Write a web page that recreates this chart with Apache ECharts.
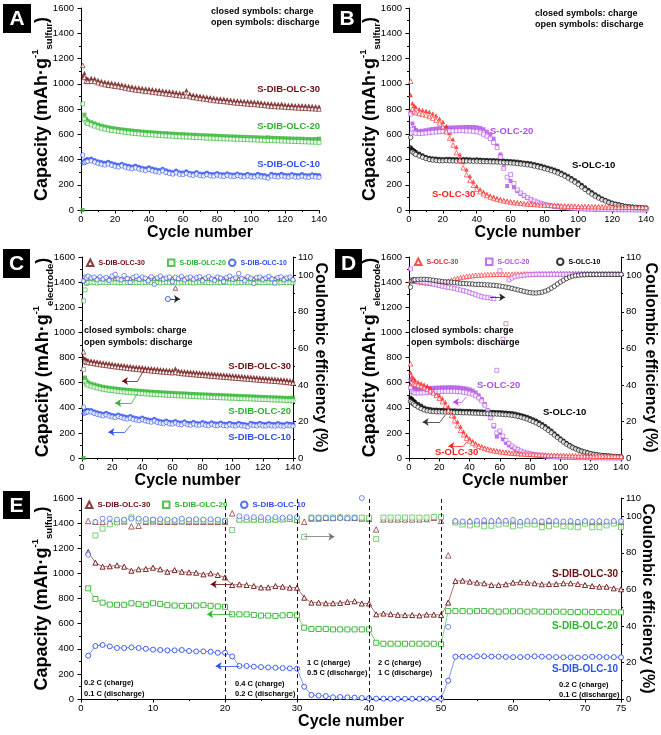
<!DOCTYPE html>
<html><head><meta charset="utf-8">
<script src="https://cdn.jsdelivr.net/npm/echarts@6/dist/echarts.min.js"></script>
<style>html,body{margin:0;padding:0;background:#fff}#c{width:661px;height:735px}</style>
</head><body><div id="c"></div>
<script>
// ---- cycle numbers (x values) ----
const CYC = [1,2,3,4]; for (let c = 6; c <= 140; c += 2) CYC.push(c);
const CYC_E = []; for (let c = 1; c <= 75; c++) CYC_E.push(c);

// ---- Panel A: capacity (mAh/g sulfur), S-DIB-OLC ----
const A30c = [1060,1085,1045,1040, 1045,1042,1030,1022,1015,1012,1008,1004,1000,995, 988,982,978,973,970,966,963,960,957,953, 950,946,942,940,936,932,929,926,948,920, 913,909,905,901,897,893,889,886,883,881, 878,874,870,868,866,864,862,860,857,855, 852,848,845,843,841,839,842,836,834,833, 830,829,830,827,825,824,822,820];
const A30d = [1145,1050,1020,1018, 1020,1018,1008,1000,993,988,985,980,977,972, 966,960,955,951,948,944,940,938,934,930, 927,923,920,917,913,910,906,903,905,898, 892,888,884,880,876,872,868,865,862,860, 857,853,850,847,845,843,840,838,836,834, 831,828,825,822,820,818,818,815,813,812, 810,808,807,806,804,803,801,800];
const A20c = [0,755,720,705, 695,686,676,668,661,655,650,646,642,638, 635,632,629,626,624,621,619,617,615,613, 611,609,608,606,604,603,601,600,599,597, 596,595,593,592,591,590,589,588,586,585, 584,583,582,581,580,579,578,577,576,575, 574,573,575,572,571,570,569,568,567,566, 565,565,564,563,562,561,562,565];
const A20d = [840,720,695,685, 675,665,656,648,641,635,630,626,622,618, 615,612,609,606,603,601,599,597,595,593, 591,589,587,586,584,582,581,579,578,577, 575,574,573,571,570,569,568,567,565,564, 563,562,561,560,559,558,557,556,555,554, 553,552,551,550,549,548,547,546,545,544, 543,542,541,540,539,538,537,536];
const A10c = [372,390,398,402, 405,395,385,378,372,380,370,362,356,365, 355,348,342,350,340,333,328,336,326,320, 315,325,312,305,300,310,298,296,305,294, 290,300,288,285,295,286,283,292,284,281, 290,282,280,288,280,277,286,278,276,285, 277,275,268,285,280,277,285,278,276,284, 277,275,283,276,274,282,277,275];
const A10d = [435,375,382,386, 390,380,370,363,357,365,355,347,341,350, 340,333,327,335,325,318,313,321,311,305, 300,310,297,290,285,295,283,281,290,279, 275,285,273,270,280,271,268,277,269,266, 275,267,265,273,265,262,271,263,261,270, 262,260,253,270,265,262,270,263,261,269, 262,260,268,261,259,267,262,260];

// ---- Panel B: capacity (mAh/g sulfur), S-OLC ----
const B30c = [910,845,828,815, 800,792,787,778,765,748,725,700,665,610, 560,500,440,380,320,270,225,190,165,145, 128,115,104,95,87,80,74,69,64,60, 57,54,51,49,47,45,43,42,40,39, 38,37,36,35,34,33,32,31,30,30, 29,28,28,27,27,26,26,25,25,24, 24,23,23,23,22,22,22,21];
const B30d = [1020,800,780,770, 765,760,752,740,728,712,690,660,620,570, 515,455,395,335,280,235,195,165,145,128, 114,103,94,86,79,73,68,63,59,56, 53,50,48,46,44,42,40,39,38,36, 35,34,33,32,31,31,30,29,28,28, 27,27,26,26,25,25,24,24,23,23, 23,22,22,22,21,21,21,20];
const B20c = [780,685,650,635, 625,628,632,638,642,645,648,650,652,653, 654,655,656,657,658,658,657,655,650,640, 620,600,565,510,440,340,190,230,180,150, 128,110,95,82,70,60,52,44,38,33, 28,24,21,18,15,13,11,9,8,7, 6,5,4,4,3,3,2,2,2,1, 1,1,1,0,0,0,0,0];
const B20d = [760,640,615,608, 605,607,610,613,616,618,620,622,624,625, 626,627,628,628,627,626,624,620,612,600, 585,565,535,495,420,330,260,280,210,160, 135,115,98,84,72,62,53,45,39,34, 29,25,22,19,16,14,12,10,9,8, 7,6,5,4,4,3,3,2,2,2, 1,1,1,1,0,0,0,0];
const B10c = [495,480,470,460, 445,432,420,412,408,405,403,402,404,403, 402,401,400,402,401,400,399,400,398,397, 396,395,394,393,392,390,388,386,384,382, 378,375,372,368,362,356,350,342,335,327, 318,308,296,282,268,252,236,218,198,178, 158,140,122,106,92,80,68,58,50,43, 37,32,28,25,23,21,19,18];
const B10d = [575,460,450,440, 428,418,408,400,396,393,390,390,392,390, 389,388,387,389,388,387,386,387,385,384, 383,382,381,380,379,377,375,373,371,368, 365,362,358,354,348,342,335,328,320,312, 303,293,281,268,253,237,221,203,183,163, 143,126,110,95,82,71,60,51,44,38, 33,29,26,23,21,19,18,17];

// ---- Panel C: capacity (mAh/g electrode) + CE (%) ----
const C30c = [800,792,782,780, 776,772,768,764,760,757,754,750,747,744, 741,738,735,732,729,727,724,722,719,717, 714,712,710,707,705,703,701,699,712,696, 693,691,689,686,684,682,680,678,676,674, 672,670,668,666,664,662,660,658,656,654, 652,650,648,646,644,642,640,638,637,635, 633,631,629,627,625,622,619,616];
const C30d = [845,770,762,760, 756,752,748,744,740,737,734,730,727,724, 721,718,715,712,709,707,704,702,699,697, 694,692,690,687,685,683,681,679,682,676, 673,671,669,666,664,662,660,658,656,654, 652,650,648,646,644,642,640,638,636,634, 632,630,628,626,624,622,620,618,617,615, 613,611,609,607,605,602,599,596];
const C20c = [0,640,615,600, 592,585,578,572,567,563,559,556,553,550, 547,545,543,541,539,537,535,533,531,529, 528,526,525,523,522,520,519,518,516,515, 514,513,512,510,509,508,507,506,505,504, 503,502,501,500,499,498,497,496,495,494, 493,492,491,490,489,488,487,486,485,484, 483,482,481,480,479,478,479,480];
const C20d = [705,610,590,580, 572,565,558,552,547,543,539,536,533,530, 527,525,523,521,519,517,515,513,511,509, 508,506,505,503,502,500,499,498,496,495, 494,493,492,490,489,488,487,486,485,484, 483,482,481,480,479,478,477,476,475,474, 473,472,471,470,469,468,467,466,465,464, 463,462,461,460,459,458,457,456];
const C10c = [355,372,378,382, 380,370,362,356,350,358,348,341,336,345, 336,330,324,332,322,316,312,320,310,305, 300,310,298,292,288,297,286,284,293,283, 280,290,279,276,286,277,275,284,276,273, 282,274,272,280,272,270,279,271,269,278, 270,268,262,278,273,270,278,271,269,277, 270,268,276,269,267,275,270,268];
const C10d = [405,358,364,368, 366,356,348,342,336,344,334,327,322,331, 322,316,310,318,308,302,298,306,296,291, 286,296,284,278,274,283,272,270,279,269, 266,276,265,262,272,263,261,270,262,259, 268,260,258,266,258,256,265,257,255,264, 256,254,248,264,259,256,264,257,255,263, 256,254,262,255,253,261,256,254];
const C30ce = [97,98.5,98,98, 98,97.8,98.2,98,97.8,98,98.2,97.9,98,98.1, 97.9,98,98.2,98,97.8,98,98.1,98,97.9,98, 98.1,98,97.9,98,98.2,98,97.9,98,93,98, 97.9,98,98.1,98,97.9,98,98,97.8,98,98.1, 98,97.9,98,98.1,98,97.9,98,98,97.9,98, 98.1,98,97.9,98,98,97.8,98,98.1,98,97.9, 98,98,97.9,98,98.1,98,97.9,98];
const C20ce = [86,92,95.5,96, 96.2,96,95.8,96,96.1,95.9,96,96.2,95.9,96, 96,95.8,96,96.1,95.9,96,96,95.8,96,96.1, 95.9,96,96,95.8,96,96.1,95.9,96,96,95.8, 96,96.1,95.9,96,95.8,96,96,95.9,96.1,96, 95.8,96,96,95.9,96,96.1,95.9,96,95.8,96, 96,95.9,96.1,96,95.8,96,96,95.9,96,96.1, 95.9,96,95.8,96,96,95.9,96,96];
const C10ce = [97,99,98.5,99.5, 98.5,99,97.5,99.2,98,98.8,97.2,99.5,100.5,98, 97.5,99.8,98.2,96,98.8,99.5,97.8,99,98.4,97, 99.2,95,98.6,99.5,97.8,98.5,99,96.5,98.8,98.2, 99.4,97.5,98.6,99,97.8,98.8,99.2,97,98.5,99.3, 98,97.2,99,98.5,96.5,98.8,99.5,97.8,98.6,101, 98.2,97,99.2,98.4,95.5,98.8,99,97.6,98.5,99.4, 98,95.8,98.8,99.1,97.5,98.6,99,97.5];

// ---- Panel D: capacity (mAh/g electrode) + CE (%) ----
const D30c = [680,650,635,620, 605,595,585,575,560,540,520,500,475,445, 410,370,330,290,250,210,180,155,135,118, 104,93,84,76,70,64,59,55,51,48, 45,42,40,38,36,34,33,31,30,29, 28,27,26,25,24,23,23,22,21,21, 20,20,19,19,18,18,17,17,17,16, 16,15,15,15,14,14,14,13];
const D30d = [750,600,590,585, 578,570,560,548,535,518,498,475,448,415, 378,338,298,258,220,185,158,136,119,105, 93,84,76,69,63,58,54,50,47,44, 41,39,37,35,33,32,30,29,28,27, 26,25,24,23,22,22,21,20,20,19, 19,18,18,17,17,16,16,16,15,15, 15,14,14,14,13,13,13,12];
const D20c = [620,580,560,552, 548,550,552,554,556,558,560,561,562,562, 563,563,562,561,559,556,552,546,537,522, 500,470,430,380,320,250,170,200,150,120, 100,85,72,61,52,44,37,31,26,22, 19,16,13,11,9,8,7,6,5,4, 4,3,3,2,2,2,1,1,1,1, 1,0,0,0,0,0,0,0];
const D20d = [560,530,520,518, 517,518,520,522,524,526,528,529,530,531, 531,531,530,529,527,524,520,515,507,495, 478,455,420,375,320,260,200,215,175,140, 115,96,80,67,56,47,40,34,29,25, 21,18,15,13,11,9,8,7,6,5, 4,4,3,3,2,2,2,1,1,1, 1,1,0,0,0,0,0,0];
const D10c = [480,470,455,445, 430,415,400,392,388,385,384,383,382,381, 380,379,378,377,376,375,375,374,373,372, 371,370,369,368,367,366,365,364,363,361, 359,356,352,347,341,334,326,317,307,296, 282,268,252,235,216,196,176,156,137,120, 104,90,78,67,58,50,43,37,32,28, 24,21,19,17,15,14,13,12];
const D10d = [450,440,430,420, 405,393,383,376,372,370,369,368,367,366, 365,364,363,362,361,360,360,359,358,357, 356,355,354,353,352,351,350,349,347,345, 343,340,336,331,325,318,310,300,290,279, 267,253,237,220,202,183,164,145,127,110, 96,83,72,62,54,47,40,35,30,26, 23,20,18,16,14,13,12,11];
const D30ce = [97,97.2,97,96.8, 96.5,96.2,96,95.8,95.6,95.5,95.5,95.6,95.8,96.2, 96.8,97.4,98,98.4,98.8,99.1,99.4,99.6,99.8,100, 100.1,100.2,100.3,100.4,100.4,100.5,100.5,100.5,100.5,100.6, 100.6,100.6,100.7,100.7,100.7,100.8,100.8,100.8,100.8,100.9, 100.9,100.9,100.9,100.9,101,101,101,101,101,101, 101,101,101,101,101,101,101,101,101,101, 101,101,101,101,101,101,101,101];
const D20ce = [103.5,97.5,97.2,97, 96.8,96.5,96.2,95.9,95.6,95.2,94.8,94.4,94,93.7, 93.4,93.1,92.8,92.4,92,91.6,91.2,90.6,90,89.4, 88.8,88.3,88,87.7,87.5,87.2,48,102.5,65,73.5, 97.5,98.5,99.2,99.6,99.8,100,100.2,100.3,100.4,100.5, 100.5,100.5,100.5,100.5,100.5,100.5,100.5,100.5,100.5,100.5, 100.5,100.5,100.5,100.5,100.5,100.5,100.5,100.5,100.5,100.5, 100.5,100.5,100.5,100.5,100.5,100.5,100.5,100.5];
const D10ce = [93.5,97,97.5,97.6, 97.7,97.8,97.8,97.7,97.5,97.3,97,96.8,96.6,96.4, 96.3,96.2,96,95.8,95.6,95.5,95.4,95.3,95.2,95, 95,94.9,94.8,94.7,94.6,94.5,94.3,94.1,93.8,93.5, 93.2,92.8,92.4,92,91.6,91.2,90.8,90.5,90.3,90.3, 90.5,90.8,91.3,92,93,94,95.2,96.3,97.3,98.2, 99,99.5,99.8,100,100.2,100.3,100.4,100.4,100.4,100.4, 100.4,100.4,100.4,100.4,100.4,100.4,100.4,100.4];

// ---- Panel E: rate test, discharge capacity (mAh/g sulfur) + CE (%) ----
const E30 = [1170,1085,1053,1056,1064,1053,1021,1032,1035,1045, 1032,1013,1026,1013,1008,1005,992,1000,987,968, 907,912,907,899,888,888,899,894,886,886, 806,767,767,762,762,765,773,778,760,760, 674,680,675,670,668,668,665,672,672,668, 767,939,942,934,926,921,907,907,913,926, 929,926,921,913,915,915,921,921,915,907, 899,894,894,881,873];
const E20 = [881,796,767,752,750,750,762,755,750,762, 757,747,744,742,742,744,747,742,737,734, 674,674,674,669,664,664,661,666,669,666, 568,557,557,557,554,554,554,554,554,554, 448,440,440,440,440,440,440,440,440,436, 700,700,700,698,700,700,698,695,698,698, 698,695,698,695,695,695,695,692,692,695, 692,692,692,690,690];
const E10 = [345,422,430,419,406,406,411,406,400,393, 390,387,387,390,382,379,379,376,368,368, 339,263,263,257,254,251,249,246,244,241, 98,32,27,24,14,16,13,11,8,6, 3,3,2,2,2,2,2,2,2,2, 146,337,337,335,340,340,338,337,335,333, 333,336,340,337,335,333,332,331,330,333, 336,335,333,333,332];
const E30ce = [97.4,97,97,97.2,97.2,97.2,94.5,94.8,97,97.2, 97,97,97,97.2,97,97,97,97,97,97, 101.6,98.8,98.8,98.6,98.8,98.6,98.6,98.6,98.8,98, 97,98.8,98.8,99.2,99.2,99.6,99.2,99.2,98.8,98.6, 92.8,98.3,98.3,98.3,98.3,98.3,98.3,98.5,99.2,97.5, 78.6,97.4,97,97.4,97.4,97.6,97.4,97.8,97.4,97.4, 97,97.2,97.4,97,97.6,97.2,97,97.2,97,97.2, 97,97.2,97,97.4,97];
const E20ce = [null,89.5,93.2,95.6,96.7,97.5,99.4,97.5,97.5,97.8, 97.5,97.5,97.3,97.5,97.5,97.5,97.5,97.3,97.5,97.3, 92.5,98,98,98,98,98,98,98.2,98.6,98, 88.8,99.3,99.3,99.3,99.3,99.3,99.3,99.3,99.3,99, 87.6,99.3,99.3,99.3,99.3,99.3,99.3,99.3,99.6,99.6, null,96.5,95.5,95,95.6,94.5,94.8,95.5,96,94.5, 95,95.6,95.5,94,94.5,95.5,94.5,94.3,94,96, 94,94,95,96,94];
const E10ce = [79,96.9,98.7,98.7,98.2,98.2,98.7,98.7,98.5,98.2, 98.4,98.2,98,98.7,98.2,98.4,98.2,98.4,98.2,97.4, null,100,99.5,99.5,99.5,99.2,99.5,99.2,99.5,99.5, null,99,99,99,98.8,99,98.8,99,110,null, null,null,null,null,null,null,null,null,null,null, 39.5,97.4,97.2,97,97.5,97.8,97.4,97.4,97.6,98, 97,97.4,97.4,97.2,97.6,97.4,97.2,97.4,97,97.4, 97.2,97.4,97.2,97.4,97.4];

// ---- axis ranges / rate boundaries ----
const CAP_MAX = 1600, CAP_STEP = 200, CE_MAX = 110, CE_STEP = 20;
const RATE_BOUNDS = [20, 30, 40, 50];

const FONT = '"Liberation Sans", Arial, sans-serif';
const M = '#6e0f0f', G = '#2db52d', B = '#2e4ff2', R = '#ff2222', P = '#b050e8', K = '#000000';
const plain = v => String(v);

function sc(name, xi, yi, ys, col, sym, open, size, xs) {
  xs = xs || CYC;
  const d = [];
  ys.forEach((v, i) => { if (v != null) d.push([xs[i], v]); });
  return { type: 'scatter', name, xAxisIndex: xi, yAxisIndex: yi, data: d, symbol: sym, symbolSize: size,
    color: col, itemStyle: open ? { color: '#fff', borderColor: col, borderWidth: 0.8 } : { color: col },
    z: open ? 3 : 2, silent: true };
}
function ln(name, ys, col, sym) {
  return { type: 'line', name, xAxisIndex: 4, yAxisIndex: 6, data: CYC_E.map((c, i) => [c, ys[i]]),
    symbol: sym, symbolSize: 5, showSymbol: true, color: col, connectNulls: false,
    itemStyle: { color: '#fff', borderColor: col, borderWidth: 0.9 },
    lineStyle: { color: col, width: 0.6 }, silent: true, z: 3 };
}
function ML(segs, col) {
  return { silent: true, animation: false, symbol: ['none', 'none'], symbolSize: 6, label: { show: false },
    emphasis: { disabled: true }, lineStyle: { color: col, width: 0.8, type: 'solid', opacity: 1 },
    data: segs.map(s => s.map(p => ({ coord: [p[0], p[1]], symbol: p[2] || 'none' }))) };
}

function xA(gi, max, interval) {
  return { type: 'value', gridIndex: gi, min: 0, max, interval, position: 'bottom',
    axisLine: { show: true, onZero: false, lineStyle: { color: '#000', width: 1 } },
    axisTick: { show: true, length: 3.5, lineStyle: { color: '#000', width: 1 } },
    minorTick: { show: true, splitNumber: 2, length: 2, lineStyle: { color: '#000', width: 1 } },
    splitLine: { show: false }, minorSplitLine: { show: false },
    axisLabel: { color: '#000', fontSize: 9.5, fontFamily: FONT, margin: 4, formatter: plain },
    name: 'Cycle number', nameLocation: 'middle', nameGap: 15, nameMoveOverlap: false,
    nameTextStyle: { color: '#000', fontSize: 16, fontWeight: 'bold', fontFamily: FONT } };
}
function yL(gi, sub) {
  return { type: 'value', gridIndex: gi, min: 0, max: CAP_MAX, interval: CAP_STEP, position: 'left',
    axisLine: { show: true, onZero: false, lineStyle: { color: '#000', width: 1 } },
    axisTick: { show: true, length: 3.5, lineStyle: { color: '#000', width: 1 } },
    minorTick: { show: true, splitNumber: 2, length: 2, lineStyle: { color: '#000', width: 1 } },
    splitLine: { show: false }, minorSplitLine: { show: false },
    axisLabel: { color: '#000', fontSize: 9.5, fontFamily: FONT, margin: 7, formatter: plain },
    name: '{a|Capacity (mAh·g}{sup|-1}{sub|' + sub + '}{a|)}', nameLocation: 'middle', nameRotate: 90, nameGap: 27,
    nameMoveOverlap: false,
    nameTextStyle: { color: '#000', fontSize: 18, fontWeight: 'bold', fontFamily: FONT,
      rich: {
        a: { fontSize: 18, fontWeight: 'bold', fontFamily: FONT, color: '#000', lineHeight: 24 },
        sup: { fontSize: 9.5, fontWeight: 'bold', fontFamily: FONT, color: '#000', verticalAlign: 'top', lineHeight: 11 },
        sub: { fontSize: 9.5, fontWeight: 'bold', fontFamily: FONT, color: '#000', verticalAlign: 'bottom', lineHeight: 11 }
      } } };
}
function yR(gi, gap) {
  return { type: 'value', gridIndex: gi, min: 0, max: CE_MAX, interval: CE_STEP, position: 'right',
    axisLine: { show: true, onZero: false, lineStyle: { color: '#000', width: 1 } },
    axisTick: { show: true, length: 3, lineStyle: { color: '#000', width: 1 } },
    minorTick: { show: true, splitNumber: 2, length: 2, lineStyle: { color: '#000', width: 1 } },
    splitLine: { show: false }, minorSplitLine: { show: false },
    axisLabel: { color: '#000', fontSize: 9.5, fontFamily: FONT, margin: 5, formatter: plain },
    name: 'Coulombic efficiency (%)', nameLocation: 'middle', nameRotate: -90, nameGap: gap, nameMoveOverlap: false,
    nameTextStyle: { color: '#000', fontSize: 16, fontWeight: 'bold', fontFamily: FONT } };
}

// series
const series = [];
// A
series.push(sc('a30c',0,0,A30c,M,'triangle',false,4.5), sc('a30d',0,0,A30d,M,'triangle',true,4.5),
  sc('a20c',0,0,A20c,G,'rect',false,4), sc('a20d',0,0,A20d,G,'rect',true,4),
  sc('a10c',0,0,A10c,B,'circle',false,4.5), sc('a10d',0,0,A10d,B,'circle',true,4.5));
// B
series.push(sc('b20c',1,1,B20c,P,'rect',false,4), sc('b20d',1,1,B20d,P,'rect',true,4),
  sc('b10c',1,1,B10c,K,'circle',false,4.5), sc('b10d',1,1,B10d,K,'circle',true,4.5),
  sc('b30c',1,1,B30c,R,'triangle',false,4.5), sc('b30d',1,1,B30d,R,'triangle',true,4.5));
// C
const c30d = sc('c30d',2,2,C30d,M,'triangle',true,4.5);
c30d.markLine = ML([[[41,700],[37,613]], [[37,613],[26.5,613,'arrow']]], M);
const c20d = sc('c20d',2,2,C20d,G,'rect',true,4);
c20d.markLine = ML([[[36.5,510],[33,438]], [[33,438],[22,438,'arrow']]], G);
const c10d = sc('c10d',2,2,C10d,B,'circle',true,4.5);
c10d.markLine = ML([[[32.5,263],[28.5,207]], [[28.5,207],[17.5,207,'arrow']]], B);
const c10ce = sc('S-DIB-OLC-10',2,3,C10ce,B,'circle',true,4.5);
c10ce.markLine = ML([[[58,87],[65,87,'arrow']]], '#222');
c10ce.markPoint = { silent: true, animation: false, symbol: 'circle', symbolSize: 5, label: { show: false },
  itemStyle: { color: '#fff', borderColor: B, borderWidth: 0.9 }, data: [{ coord: [57, 87] }] };
series.push(sc('c30c',2,2,C30c,M,'triangle',false,4.5), c30d,
  sc('c20c',2,2,C20c,G,'rect',false,4), c20d,
  sc('c10c',2,2,C10c,B,'circle',false,4.5), c10d,
  sc('S-DIB-OLC-30',2,3,C30ce,M,'triangle',true,4.5),
  sc('S-DIB-OLC-20',2,3,C20ce,G,'rect',true,4), c10ce);
// D
const d20d = sc('d20d',3,4,D20d,P,'rect',true,4);
d20d.markLine = ML([[[38,488],[35,446]], [[35,446],[29,446,'arrow']]], P);
const d10d = sc('d10d',3,4,D10d,K,'circle',true,4.5);
d10d.markLine = ML([[[24,342],[20.5,287]], [[20.5,287],[9,287,'arrow']]], '#333');
const d30d = sc('d30d',3,4,D30d,R,'triangle',true,4.5);
d30d.markLine = ML([[[38,127],[36,95]], [[36,95],[26,95,'arrow']]], R);
const d20ce = sc('S-OLC-20',3,5,D20ce,P,'rect',true,4);
d20ce.markLine = ML([[[53.5,88],[63.5,88,'arrow']]], '#222');
series.push(sc('d20c',3,4,D20c,P,'rect',false,4), d20d,
  sc('d10c',3,4,D10c,K,'circle',false,4.5), d10d,
  sc('d30c',3,4,D30c,R,'triangle',false,4.5), d30d,
  sc('S-OLC-30',3,5,D30ce,R,'triangle',true,4.5), d20ce,
  sc('S-OLC-10',3,5,D10ce,K,'circle',true,4.5));
// E
const e30 = ln('e30', E30, M, 'triangle');
e30.markLine = { silent: true, animation: false, symbol: ['none','none'], label: { show: false },
  emphasis: { disabled: true }, lineStyle: { color: '#000', width: 0.9, type: [4, 3], opacity: 1 },
  data: RATE_BOUNDS.map(v => ({ xAxis: v })) };
const e30b = ln('e30b', [], M, 'none');
e30b.data = []; e30b.markLine = ML([[[21,913],[18,913,'arrow']]], M);
const e20 = ln('e20', E20, G, 'rect');
e20.markLine = ML([[[21,674],[17.5,674,'arrow']]], G);
const e10 = ln('e10', E10, B, 'circle');
e10.markLine = ML([[[22,263],[18.7,263,'arrow']]], B);
const e20ce = sc('S-DIB-OLC-20',4,7,E20ce,G,'rect',true,5,CYC_E);
e20ce.markLine = ML([[[31,88.8],[35.2,88.8,'arrow']]], '#777');
series.push(e30, e30b, e20, e10,
  sc('S-DIB-OLC-30',4,7,E30ce,M,'triangle',true,5.5,CYC_E), e20ce,
  sc('S-DIB-OLC-10',4,7,E10ce,B,'circle',true,5,CYC_E));

function L(x, y, name, col, fs) {
  return { left: x, top: y - 3.5, orient: 'horizontal', padding: 0, itemWidth: 6.5, itemHeight: 6.5, itemGap: 0,
    selectedMode: false, data: [{ name, textStyle: { color: col } }],
    textStyle: { fontSize: fs, fontWeight: 'bold', fontFamily: FONT, color: col } };
}
const legend = [
  L(86, 262, 'S-DIB-OLC-30', M, 7), L(167, 262, 'S-DIB-OLC-20', G, 7), L(228, 262, 'S-DIB-OLC-10', B, 7),
  L(414, 261, 'S-OLC-30', R, 7), L(485, 261, 'S-OLC-20', P, 7), L(556, 261, 'S-OLC-10', K, 7),
  L(85, 504, 'S-DIB-OLC-30', M, 8), L(162, 504, 'S-DIB-OLC-20', G, 8), L(240, 504, 'S-DIB-OLC-10', B, 8)
];

function T(x, y, text, size, col, align) {
  return { type: 'text', silent: true, z: 10, style: { x, y, text, fill: col || '#000',
    font: 'bold ' + size + 'px ' + FONT, align: align || 'left', verticalAlign: 'middle' } };
}
function box(x, y, w, h, letter) {
  return [{ type: 'rect', silent: true, shape: { x, y, width: w, height: h }, style: { fill: '#000' } },
    { type: 'text', silent: true, style: { x: x + w / 2, y: y + h / 2 + 1, text: letter, fill: '#fff',
      font: 'bold 21px ' + FONT, align: 'center', verticalAlign: 'middle' } }];
}
const graphic = [].concat(
  box(3, 4, 28, 29, 'A'), box(333, 4, 28, 29, 'B'), box(3, 249, 27, 29, 'C'), box(335, 249, 27, 29, 'D'), box(3, 491, 27, 28, 'E'),
  [
    T(211, 12, 'closed symbols: charge', 9), T(211, 23, 'open symbols: discharge', 9),
    T(320, 89, 'S-DIB-OLC-30', 9.5, M, 'right'), T(320, 126, 'S-DIB-OLC-20', 9.5, G, 'right'), T(320, 164, 'S-DIB-OLC-10', 9.5, B, 'right'),
    T(535, 14, 'closed symbols: charge', 9), T(535, 25, 'open symbols: discharge', 9),
    T(490, 131, 'S-OLC-20', 9.5, P), T(572, 165, 'S-OLC-10', 9.5, K), T(432, 194, 'S-OLC-30', 9.5, R),
    T(84, 331, 'closed symbols: charge', 9), T(84, 343, 'open symbols: discharge', 9),
    T(291, 366, 'S-DIB-OLC-30', 9.5, M, 'right'), T(291, 411, 'S-DIB-OLC-20', 9.5, G, 'right'), T(291, 437, 'S-DIB-OLC-10', 9.5, B, 'right'),
    T(411, 331, 'closed symbols: charge', 9), T(411, 343, 'open symbols: discharge', 9),
    T(477, 385, 'S-OLC-20', 9.5, P), T(543, 412, 'S-OLC-10', 9.5, K), T(435, 452, 'S-OLC-30', 9.5, R),
    T(618, 574, 'S-DIB-OLC-30', 10, M, 'right'), T(618, 626, 'S-DIB-OLC-20', 10, G, 'right'), T(618, 669, 'S-DIB-OLC-10', 10, B, 'right'),
    T(84, 683, '0.2 C (charge)', 7.5), T(84, 694, '0.1 C (discharge)', 7.5),
    T(235, 684, '0.4 C (charge)', 7.5), T(235, 694, '0.2 C (discharge)', 7.5),
    T(307, 663, '1 C (charge)', 7.5), T(307, 673, '0.5 C (discharge)', 7.5),
    T(378, 663, '2 C (charge)', 7.5), T(378, 673, '1 C (discharge)', 7.5),
    T(559, 685, '0.2 C (charge)', 7.5), T(559, 695, '0.1 C (discharge)', 7.5)
  ]);

const chart = echarts.init(document.getElementById('c'), null, { renderer: 'canvas' });
chart.setOption({
  animation: false, backgroundColor: '#fff',
  grid: [
    { left: 81, top: 8, width: 238, height: 202, outerBoundsMode: 'none' },
    { left: 409, top: 8, width: 237, height: 202, outerBoundsMode: 'none' },
    { left: 82, top: 257, width: 211, height: 201, outerBoundsMode: 'none' },
    { left: 409, top: 257, width: 212, height: 201, outerBoundsMode: 'none' },
    { left: 81, top: 498, width: 540, height: 201, outerBoundsMode: 'none' }
  ],
  xAxis: [xA(0, 140, 20), xA(1, 140, 20), xA(2, 140, 20), xA(3, 140, 20), xA(4, 75, 10)],
  yAxis: [yL(0, 'sulfur'), yL(1, 'sulfur'), yL(2, 'electrode'), yR(2, 19), yL(3, 'electrode'), yR(3, 21), yL(4, 'sulfur'), yR(4, 18)],
  legend, graphic, series
});
</script></body></html>
